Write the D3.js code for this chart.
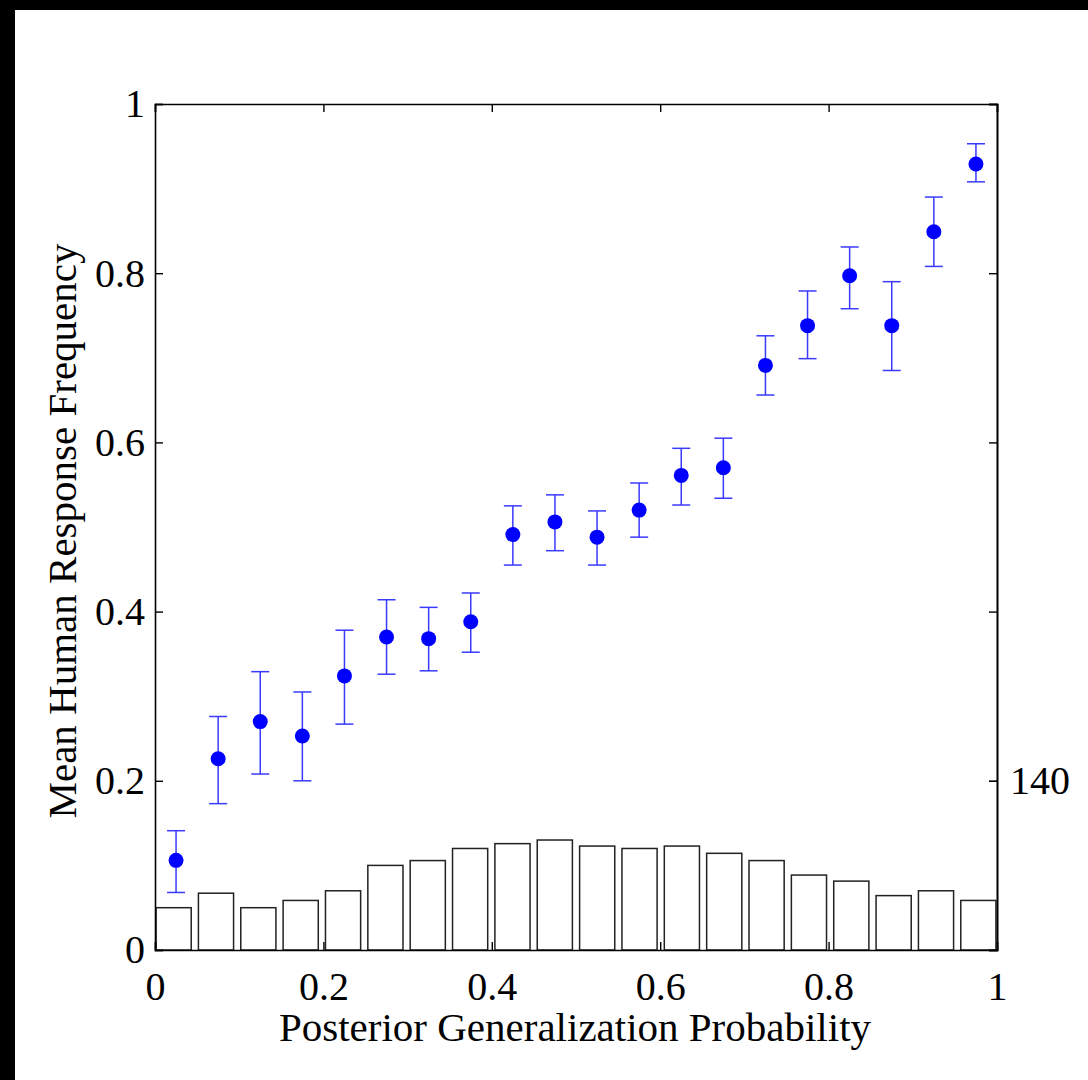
<!DOCTYPE html>
<html>
<head>
<meta charset="utf-8">
<script src="https://cdn.jsdelivr.net/npm/d3@7"></script>
<style>
  body { margin: 0; background: #fff; }
  svg { display: block; }
  text { font-family: "Liberation Serif", "Times New Roman", serif; fill: #000; }
</style>
</head>
<body>
<svg id="chart" width="1088" height="1080"></svg>
<script>
// bin centres of the posterior probability
var binCenters = [0.025, 0.075, 0.125, 0.175, 0.225, 0.275, 0.325, 0.375, 0.425, 0.475,
                  0.525, 0.575, 0.625, 0.675, 0.725, 0.775, 0.825, 0.875, 0.925, 0.975];
// mean human response frequency per bin
var meanResp = [0.106, 0.226, 0.270, 0.253, 0.324, 0.370, 0.368, 0.388, 0.491, 0.506,
                0.488, 0.520, 0.561, 0.570, 0.691, 0.738, 0.797, 0.738, 0.849, 0.929];
var errLow = [0.068, 0.173, 0.208, 0.200, 0.267, 0.326, 0.330, 0.352, 0.455, 0.472,
              0.455, 0.488, 0.526, 0.534, 0.656, 0.699, 0.758, 0.685, 0.808, 0.908];
var errHigh = [0.141, 0.276, 0.329, 0.305, 0.378, 0.414, 0.405, 0.422, 0.525, 0.538,
               0.519, 0.552, 0.593, 0.605, 0.726, 0.779, 0.831, 0.790, 0.890, 0.953];
// histogram counts (right axis)
var counts = [35, 47, 35, 41, 49, 70, 74, 84, 88, 91,
              86, 84, 86, 80, 74, 62, 57, 45, 49, 41];
var xTicks = [0, 0.2, 0.4, 0.6, 0.8, 1];
var yTicks = [0, 0.2, 0.4, 0.6, 0.8, 1];
var rightTicks = [140];

var margin = { top: 104, right: 91, bottom: 130, left: 155 };
var W = 1088, H = 1080;
var innerWidth = W - margin.left - margin.right;
var innerHeight = H - margin.top - margin.bottom;

var svg = d3.select("#chart");

// black frame strips along the left and top of the picture
svg.append("rect").attr("x", 0).attr("y", 0).attr("width", 15).attr("height", H).attr("fill", "#000");
svg.append("rect").attr("x", 0).attr("y", 0).attr("width", W).attr("height", 10).attr("fill", "#000");

var g = svg.append("g").attr("transform", "translate(" + margin.left + "," + margin.top + ")");

var xScale = d3.scaleLinear().domain([0, 1]).range([0, innerWidth]);
var yScale = d3.scaleLinear().domain([0, 1]).range([innerHeight, 0]);
var yRight = d3.scaleLinear().domain([0, 700]).range([innerHeight, 0]);
var xBand = d3.scaleBand()
  .domain(d3.range(counts.length))
  .range([0, innerWidth])
  .paddingInner(0.17)
  .paddingOuter(0.025);

// histogram bars
g.selectAll(".bar")
  .data(counts)
  .enter().append("rect")
  .attr("class", "bar")
  .attr("x", function (d, i) { return xBand(i); })
  .attr("y", function (d) { return yRight(d); })
  .attr("width", xBand.bandwidth())
  .attr("height", function (d) { return innerHeight - yRight(d); })
  .attr("fill", "#fff")
  .attr("stroke", "#222")
  .attr("stroke-width", 1.5);

// axes with inward ticks
var fontSize = 40;
var tickLen = 8;
var fmt = function (d) { return d3.format("")(+d.toFixed(1)); };

var xAxis = d3.axisBottom(xScale).tickValues(xTicks).tickSize(-tickLen).tickPadding(22).tickFormat(fmt);
var xTop = d3.axisTop(xScale).tickValues(xTicks).tickSize(-tickLen);
var yAxis = d3.axisLeft(yScale).tickValues(yTicks).tickSize(-tickLen).tickPadding(10).tickFormat(fmt);
var yRightMain = d3.axisRight(yScale).tickValues(yTicks).tickSize(-tickLen);
var yRightAxis = d3.axisRight(yRight).tickValues(rightTicks).tickSize(-tickLen).tickPadding(13);

function styleAxis(sel) {
  sel.attr("font-size", fontSize).attr("font-family", "Liberation Serif");
  sel.select(".domain").attr("stroke", "#000").attr("stroke-width", 1.6);
  sel.selectAll(".tick line").attr("stroke", "#000").attr("stroke-width", 1.4);
  sel.selectAll(".tick text").attr("fill", "#000");
}

// mirror axes carry only tick marks
function noLabels(sel) {
  sel.selectAll(".tick text").remove();
}

g.append("g").attr("transform", "translate(0," + innerHeight + ")").call(xAxis).call(styleAxis);
g.append("g").call(xTop).call(styleAxis).call(noLabels);
g.append("g").call(yAxis).call(styleAxis);
g.append("g").attr("transform", "translate(" + innerWidth + ",0)").call(yRightMain).call(styleAxis).call(noLabels);
g.append("g").attr("transform", "translate(" + innerWidth + ",0)").call(yRightAxis).call(styleAxis);

// error bars
var cap = 9;
var errG = g.selectAll(".err")
  .data(binCenters)
  .enter().append("g")
  .attr("class", "err")
  .attr("stroke", "#3a3aff")
  .attr("stroke-width", 1.5);

errG.append("line")
  .attr("x1", function (d) { return xScale(d); })
  .attr("x2", function (d) { return xScale(d); })
  .attr("y1", function (d, i) { return yScale(errLow[i]); })
  .attr("y2", function (d, i) { return yScale(errHigh[i]); });
errG.append("line")
  .attr("x1", function (d) { return xScale(d) - cap; })
  .attr("x2", function (d) { return xScale(d) + cap; })
  .attr("y1", function (d, i) { return yScale(errLow[i]); })
  .attr("y2", function (d, i) { return yScale(errLow[i]); });
errG.append("line")
  .attr("x1", function (d) { return xScale(d) - cap; })
  .attr("x2", function (d) { return xScale(d) + cap; })
  .attr("y1", function (d, i) { return yScale(errHigh[i]); })
  .attr("y2", function (d, i) { return yScale(errHigh[i]); });

// mean markers
g.selectAll(".dot")
  .data(binCenters)
  .enter().append("circle")
  .attr("class", "dot")
  .attr("cx", function (d) { return xScale(d); })
  .attr("cy", function (d, i) { return yScale(meanResp[i]); })
  .attr("r", 7.5)
  .attr("fill", "#0000ff");

// axis titles
svg.append("text")
  .attr("x", 575)
  .attr("y", 1041)
  .attr("text-anchor", "middle")
  .style("font-size", "41px")
  .text("Posterior Generalization Probability");

svg.append("text")
  .attr("transform", "translate(76,531) rotate(-90)")
  .attr("text-anchor", "middle")
  .style("font-size", "41px")
  .text("Mean Human Response Frequency");
</script>
</body>
</html>
